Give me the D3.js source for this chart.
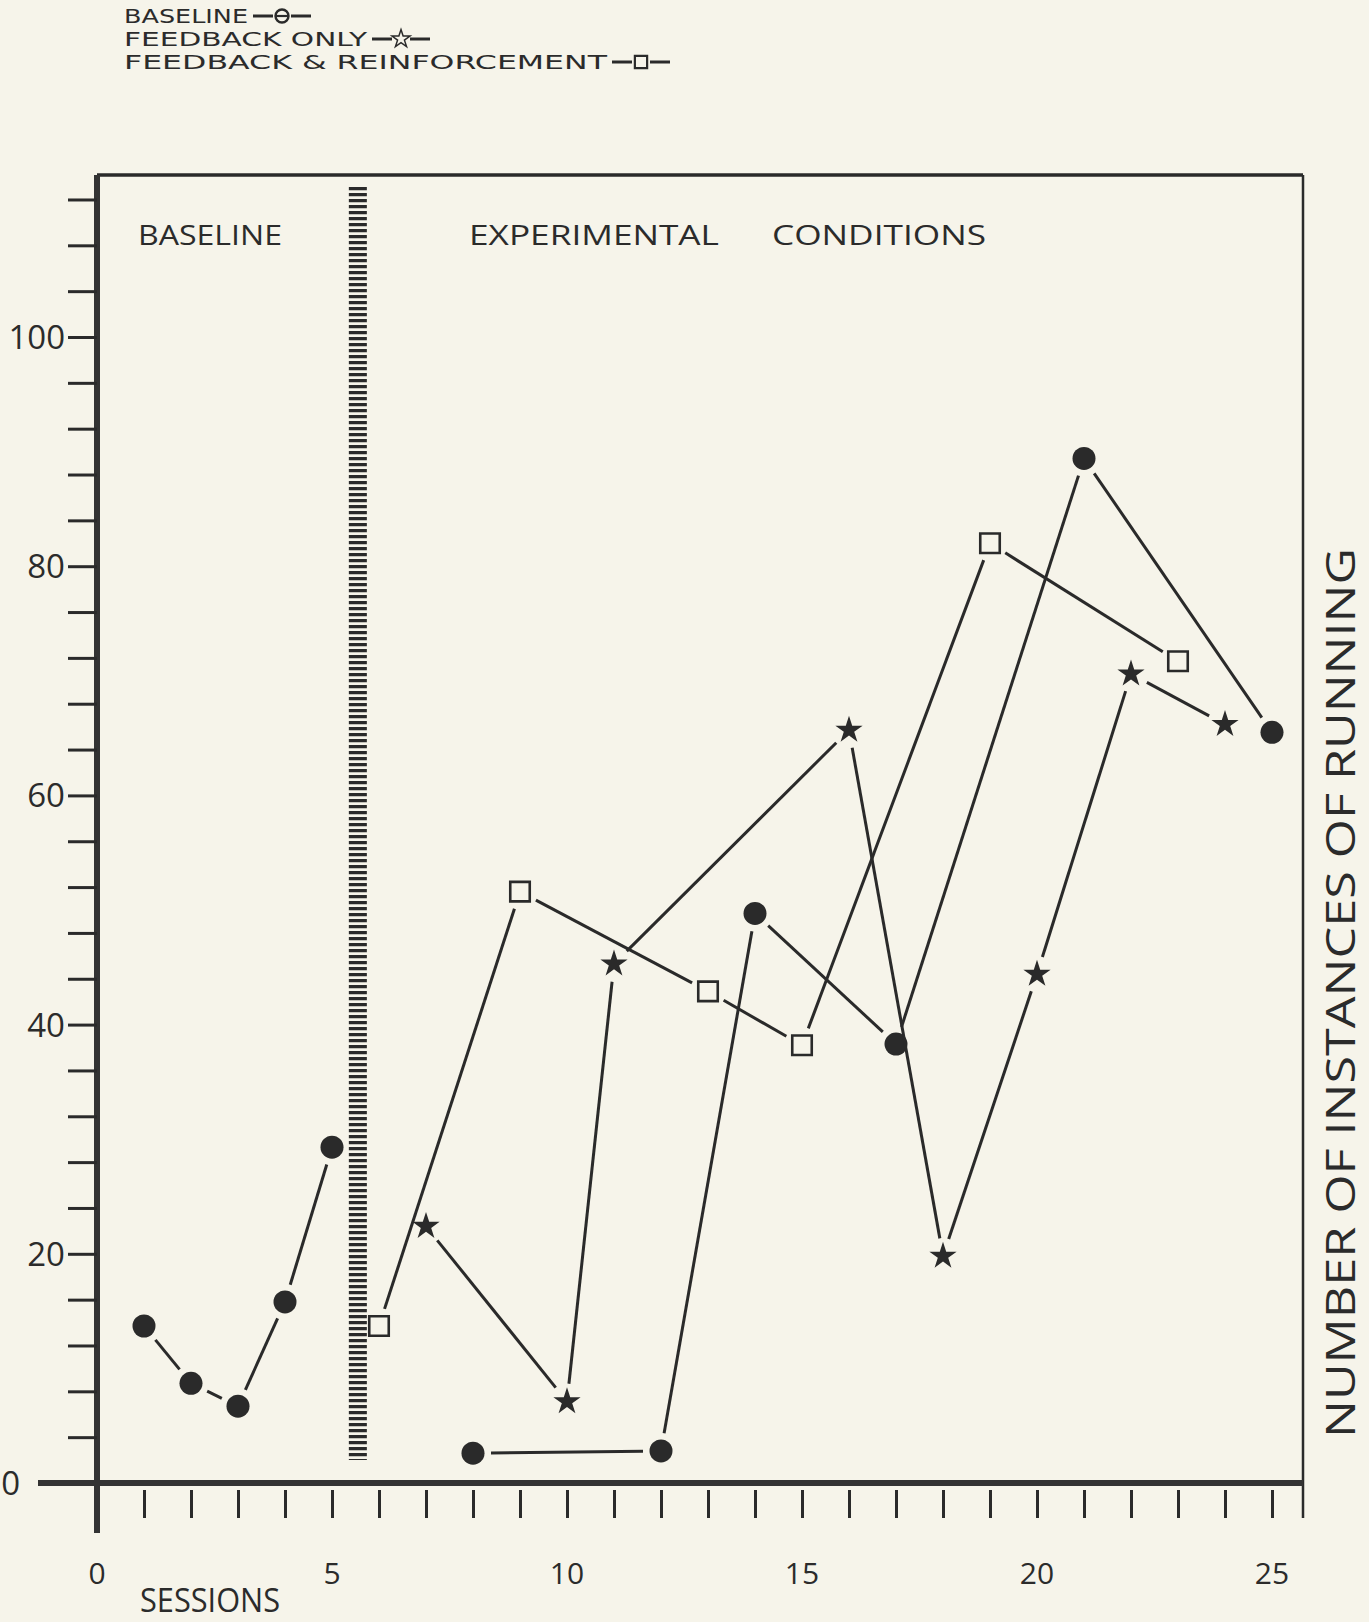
<!DOCTYPE html>
<html><head><meta charset="utf-8">
<script src="https://cdn.jsdelivr.net/npm/d3@7"></script>
<style>
html,body{margin:0;padding:0;background:#f6f4ea;}
svg{display:block}
text{font-family:"Open Sans","DejaVu Sans",sans-serif;fill:#2b2b2b}
</style></head><body>
<svg id="c" width="1369" height="1622"></svg>
<script>
// ---- data ----
const baselineSessions = [1, 2, 3, 4, 5];
const baselineValues = [13.7, 8.7, 6.7, 15.8, 29.3];
const expBaselineSessions = [8, 12, 14, 17, 21, 25];
const expBaselineValues = [2.6, 2.8, 49.7, 38.3, 89.4, 65.5];
const feedbackSessions = [7, 10, 11, 16, 18, 20, 22, 24];
const feedbackValues = [22.4, 7.1, 45.3, 65.7, 19.8, 44.4, 70.6, 66.2];
const reinforcementSessions = [6, 9, 13, 15, 19, 23];
const reinforcementValues = [13.7, 51.6, 42.9, 38.2, 82.0, 71.7];
const phaseChangeSession = 5.55;
const xTickLabels = [0, 5, 10, 15, 20, 25];
const xMinorTicks = d3.range(1, 26);
const yTickLabels = [0, 20, 40, 60, 80, 100];
const yMinorTicks = d3.range(4, 113, 4);
const legendLabels = ["BASELINE", "FEEDBACK  ONLY", "FEEDBACK & REINFORCEMENT"];
const phaseLabels = ["BASELINE", "EXPERIMENTAL", "CONDITIONS"];
const yTitle = "NUMBER OF INSTANCES OF RUNNING";
const xTitle = "SESSIONS";

// ---- layout ----
const ink = "#2a2a2a";
const svg = d3.select("#c");
const x = d3.scaleLinear().domain([0, 25]).range([97, 1272]);
const y = d3.scaleLinear().domain([0, 100]).range([1483, 337]);
const frameTop = 175, frameRight = 1303, frameLeft = 97;

// frame
svg.append("line").attr("x1", frameLeft).attr("x2", frameRight).attr("y1", frameTop).attr("y2", frameTop)
  .attr("stroke", ink).attr("stroke-width", 3.5);
svg.append("line").attr("x1", frameRight).attr("x2", frameRight).attr("y1", frameTop).attr("y2", 1518)
  .attr("stroke", ink).attr("stroke-width", 2.5);
svg.append("line").attr("x1", frameLeft).attr("x2", frameLeft).attr("y1", frameTop).attr("y2", 1533)
  .attr("stroke", "#333").attr("stroke-width", 6);
svg.append("line").attr("x1", 38).attr("x2", frameRight).attr("y1", y(0)).attr("y2", y(0))
  .attr("stroke", "#333").attr("stroke-width", 6);

// y axis ticks
const yAxis = svg.append("g").attr("transform", `translate(${frameLeft},0)`)
  .call(d3.axisLeft(y).tickValues(yMinorTicks).tickSize(29).tickFormat(""));
yAxis.select(".domain").remove();
yAxis.selectAll("line").attr("stroke", ink).attr("stroke-width", 3);
svg.append("g").selectAll("text").data(yTickLabels).join("text")
  .attr("x", d => d === 0 ? 20 : 65).attr("y", d => y(d) + 12)
  .attr("text-anchor", "end").attr("font-size", 33).text(d => d);

// x axis ticks
const xAxis = svg.append("g").attr("transform", `translate(0,${y(0) + 7})`)
  .call(d3.axisBottom(x).tickValues(xMinorTicks).tickSize(28).tickFormat(""));
xAxis.select(".domain").remove();
xAxis.selectAll("line").attr("stroke", ink).attr("stroke-width", 3);
svg.append("g").selectAll("text").data(xTickLabels).join("text")
  .attr("x", d => x(d)).attr("y", 1584)
  .attr("text-anchor", "middle").attr("font-size", 30).text(d => d);

svg.append("text").attr("x", 140).attr("y", 1612).attr("font-size", 33)
  .attr("textLength", 140).attr("lengthAdjust", "spacingAndGlyphs").text(xTitle);

svg.append("text").attr("transform", "translate(1355,993) rotate(-90)")
  .attr("text-anchor", "middle").attr("font-size", 40)
  .attr("textLength", 890).attr("lengthAdjust", "spacingAndGlyphs").text(yTitle);

// phase separator
svg.append("line").attr("x1", x(phaseChangeSession)).attr("x2", x(phaseChangeSession))
  .attr("y1", 187).attr("y2", 1460).attr("stroke", ink).attr("stroke-width", 18)
  .attr("stroke-dasharray", "3.2,2.8");

// phase labels
svg.append("text").attr("x", 138).attr("y", 245).attr("font-size", 27)
  .attr("textLength", 144).attr("lengthAdjust", "spacingAndGlyphs").text(phaseLabels[0]);
svg.append("text").attr("x", 469).attr("y", 245).attr("font-size", 27)
  .attr("textLength", 250).attr("lengthAdjust", "spacingAndGlyphs").text(phaseLabels[1]);
svg.append("text").attr("x", 772).attr("y", 245).attr("font-size", 27)
  .attr("textLength", 214).attr("lengthAdjust", "spacingAndGlyphs").text(phaseLabels[2]);

// legend
const legendY = [16, 39, 62];
const legendLen = [124, 243, 483];
legendLabels.forEach((lab, i) => {
  svg.append("text").attr("x", 124).attr("y", legendY[i] + 7).attr("font-size", 19)
    .style("font-family", "'DejaVu Sans', sans-serif")
    .attr("textLength", legendLen[i]).attr("lengthAdjust", "spacingAndGlyphs").text(lab);
  const x0 = 124 + legendLen[i] + 5;
  svg.append("line").attr("x1", x0).attr("x2", x0 + 20).attr("y1", legendY[i]).attr("y2", legendY[i])
    .attr("stroke", ink).attr("stroke-width", 3);
  svg.append("line").attr("x1", x0 + 38).attr("x2", x0 + 58).attr("y1", legendY[i]).attr("y2", legendY[i])
    .attr("stroke", ink).attr("stroke-width", 3);
  const cx = x0 + 29;
  const g = svg.append("g").attr("transform", `translate(${cx},${legendY[i]})`);
  if (i === 0) {
    g.append("circle").attr("r", 6.5).attr("fill", "none").attr("stroke", ink).attr("stroke-width", 2.4);
    g.append("line").attr("x1", -6.5).attr("x2", 6.5).attr("stroke", ink).attr("stroke-width", 2.2);
  } else if (i === 1) {
    g.append("path").attr("d", d3.symbol(d3.symbolStar, 100)()).attr("fill", "none")
      .attr("stroke", ink).attr("stroke-width", 1.5);
  } else {
    g.append("path").attr("d", d3.symbol(d3.symbolSquare, 150)()).attr("fill", "none")
      .attr("stroke", ink).attr("stroke-width", 2.2);
  }
});

// data series
function drawSeries(sessions, values, kind) {
  const pts = sessions.map((s, i) => [x(s), y(values[i])]);
  const gap = 18;
  const lg = svg.append("g");
  for (let i = 0; i < pts.length - 1; i++) {
    const [x1, y1] = pts[i], [x2, y2] = pts[i + 1];
    const dx = x2 - x1, dy = y2 - y1, L = Math.hypot(dx, dy);
    const ux = dx / L, uy = dy / L;
    lg.append("line")
      .attr("x1", x1 + ux * gap).attr("y1", y1 + uy * gap)
      .attr("x2", x2 - ux * gap).attr("y2", y2 - uy * gap)
      .attr("stroke", ink).attr("stroke-width", 3);
  }
  const mg = svg.append("g");
  pts.forEach(([px, py]) => {
    if (kind === "circle") {
      mg.append("circle").attr("cx", px).attr("cy", py).attr("r", 11.5).attr("fill", ink);
    } else if (kind === "star") {
      mg.append("path").attr("transform", `translate(${px},${py})`)
        .attr("d", d3.symbol(d3.symbolStar, 230)()).attr("fill", ink);
    } else {
      mg.append("path").attr("transform", `translate(${px},${py})`)
        .attr("d", d3.symbol(d3.symbolSquare, 380)()).attr("fill", "none")
        .attr("stroke", ink).attr("stroke-width", 2.6);
    }
  });
}
drawSeries(baselineSessions, baselineValues, "circle");
drawSeries(expBaselineSessions, expBaselineValues, "circle");
drawSeries(feedbackSessions, feedbackValues, "star");
drawSeries(reinforcementSessions, reinforcementValues, "square");
</script>
</body></html>
